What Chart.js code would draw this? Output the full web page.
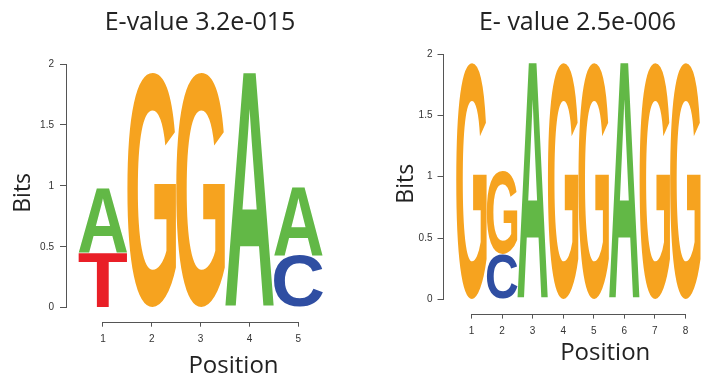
<!DOCTYPE html>
<html>
<head>
<meta charset="utf-8">
<script src="https://cdn.jsdelivr.net/npm/chart.js@4"></script>
<style>
    html, body { margin: 0; padding: 0; background: #fff; overflow: hidden; width: 704px; height: 381px; }
    .panel { position: absolute; top: 0; height: 381px; }
    #leftPanel { left: 0; width: 400px; }
    #rightPanel { left: 387.5px; width: 379px; }
</style>
</head>
<body>
<div class="panel" id="leftPanel"><canvas id="leftChart"></canvas></div>
<div class="panel" id="rightPanel"><canvas id="rightChart"></canvas></div>
<script>
// Motif 1 (E-value 3.2e-015)
const leftPositions = [1, 2, 3, 4, 5];
const leftA = [0.53, 0, 0, 1.93, 0.56];
const leftC = [0, 0, 0, 0, 0.43];
const leftG = [0, 1.93, 1.93, 0, 0];
const leftT = [0.45, 0, 0, 0, 0];

// Motif 2 (E-value 2.5e-006)
const rightPositions = [1, 2, 3, 4, 5, 6, 7, 8];
const rightA = [0, 0, 1.93, 0, 0, 1.93, 0, 0];
const rightC = [0, 0.37, 0, 0, 0, 0, 0, 0];
const rightG = [1.93, 0.68, 0, 1.93, 1.93, 0, 1.93, 1.93];
const rightT = [0, 0, 0, 0, 0, 0, 0, 0];

const bitTicks = [0, 0.5, 1, 1.5, 2];
const baseColors = { A: '#62b846', C: '#2f4ea2', G: '#f6a31f', T: '#e91f27' };

// stretch a glyph into the rectangle of its bar
function drawLetter(ctx, ch, color, x, top, w, h) {
    ctx.save();
    ctx.font = 'bold 200px "Liberation Sans"';
    const m = ctx.measureText(ch);
    const gw = m.actualBoundingBoxLeft + m.actualBoundingBoxRight;
    const gh = m.actualBoundingBoxAscent + m.actualBoundingBoxDescent;
    ctx.translate(x, top);
    ctx.scale(w / gw, h / gh);
    ctx.fillStyle = color;
    ctx.textAlign = 'left';
    ctx.textBaseline = 'alphabetic';
    ctx.fillText(ch, m.actualBoundingBoxLeft, m.actualBoundingBoxAscent);
    ctx.restore();
}

const letterPlugin = {
    id: 'letters',
    afterDatasetsDraw(chart) {
        chart.data.datasets.forEach((ds, i) => {
            const meta = chart.getDatasetMeta(i);
            meta.data.forEach((bar, j) => {
                if (!ds.data[j]) return;
                const p = bar.getProps(['x', 'y', 'base', 'width'], true);
                drawLetter(chart.ctx, ds.label, baseColors[ds.label], p.x - p.width / 2, p.y, p.width, p.base - p.y);
            });
        });
    }
};

// R-style axis lines that only span the tick range
const axisLinePlugin = {
    id: 'axisLines',
    afterDraw(chart) {
        const ctx = chart.ctx;
        const xs = chart.scales.x, ys = chart.scales.y;
        const ticksX = xs.ticks.map(t => t.value);
        const bottom = Math.round(chart.chartArea.bottom) + 0.5;
        const left = Math.round(chart.chartArea.left) - 0.5;
        ctx.save();
        ctx.strokeStyle = '#555';
        ctx.lineWidth = 1;
        ctx.beginPath();
        ctx.moveTo(xs.getPixelForValue(ticksX[0]), bottom);
        ctx.lineTo(xs.getPixelForValue(ticksX[ticksX.length - 1]), bottom);
        ctx.moveTo(left, ys.getPixelForValue(bitTicks[0]));
        ctx.lineTo(left, ys.getPixelForValue(bitTicks[bitTicks.length - 1]));
        ctx.stroke();
        ctx.restore();
    }
};

function logoConfig(o) {
    const mk = (label, data) => ({
        label: label,
        data: data,
        backgroundColor: 'rgba(0,0,0,0)',
        borderWidth: 0,
        barPercentage: 1,
        categoryPercentage: 1
    });
    return {
        type: 'bar',
        data: {
            labels: o.positions,
            datasets: [mk('T', o.T), mk('C', o.C), mk('G', o.G), mk('A', o.A)]
        },
        options: {
            responsive: true,
            maintainAspectRatio: false,
            animation: false,
            layout: { padding: 0 },
            plugins: {
                legend: { display: false },
                tooltip: { enabled: false },
                title: {
                    display: true,
                    text: o.title,
                    color: '#222',
                    font: { family: '"Open Sans"', size: 25, weight: 'normal' },
                    padding: { top: 8, bottom: o.titleGap }
                }
            },
            scales: {
                x: {
                    type: 'linear',
                    min: o.xMin,
                    max: o.xMax,
                    offset: false,
                    stacked: true,
                    afterBuildTicks: s => { s.ticks = o.positions.map(v => ({ value: v })); },
                    border: { display: false },
                    grid: { offset: false, drawOnChartArea: false, drawTicks: true, tickLength: 5, color: '#555' },
                    ticks: { color: '#333', padding: 7, font: { family: '"Liberation Sans"', size: 10 }, callback: v => String(v) },
                    title: {
                        display: true, text: 'Position', color: '#222',
                        font: { family: '"Open Sans"', size: 24 },
                        padding: { top: o.xTitlePad[0], bottom: o.xTitlePad[1] }
                    }
                },
                y: {
                    min: -0.115,
                    max: 2,
                    stacked: true,
                    afterBuildTicks: s => { s.ticks = bitTicks.map(v => ({ value: v })); },
                    border: { display: false },
                    grid: { drawOnChartArea: false, drawTicks: true, tickLength: o.yTick[0], color: '#555' },
                    ticks: { color: '#333', padding: o.yTick[1], font: { family: '"Liberation Sans"', size: 10 }, callback: v => String(v) },
                    title: {
                        display: true, text: 'Bits', color: '#222',
                        font: { family: '"Open Sans"', size: 23 },
                        padding: { top: o.yTitlePad[0], bottom: o.yTitlePad[1] }
                    }
                }
            }
        },
        plugins: [letterPlugin, axisLinePlugin]
    };
}

window.onload = () => {
    new Chart(document.getElementById('leftChart'), logoConfig({
        positions: leftPositions, A: leftA, C: leftC, G: leftG, T: leftT,
        title: 'E-value 3.2e-015', titleGap: 26,
        xMin: 0.265, xMax: 7.08,
        xTitlePad: [-0.5, 0], yTick: [7, 6], yTitlePad: [9.2, -2.7]
    }));
    new Chart(document.getElementById('rightChart'), logoConfig({
        positions: rightPositions, A: rightA, C: rightC, G: rightG, T: rightT,
        title: 'E- value 2.5e-006', titleGap: 16,
        xMin: 0.084, xMax: 10.67,
        xTitlePad: [-6, 13.6], yTick: [6, 5], yTitlePad: [5, -7]
    }));
};
</script>
</body>
</html>
